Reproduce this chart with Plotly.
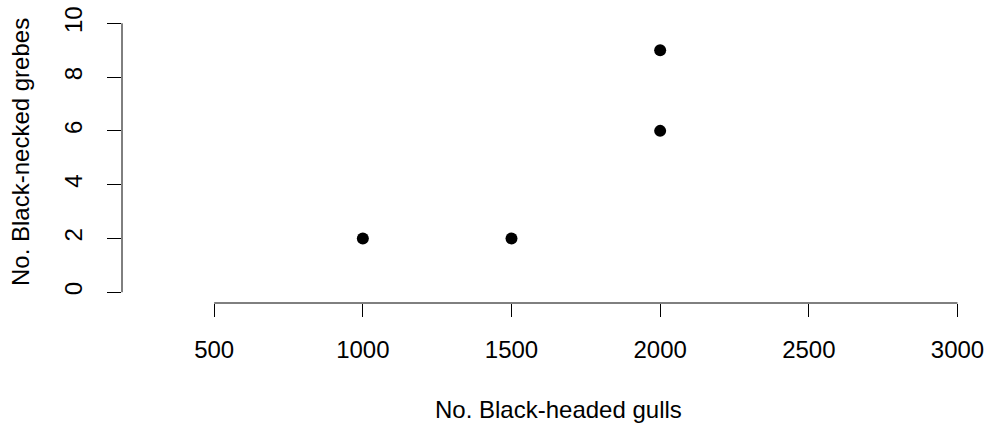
import plotly.graph_objects as go

gulls = [1000, 1500, 2000, 2000]
grebes = [2, 2, 6, 9]
x_ticks = [500, 1000, 1500, 2000, 2500, 3000]
y_ticks = [0, 2, 4, 6, 8, 10]
x_title = "No. Black-headed gulls"
y_title = "No. Black-necked grebes"

FONT = "Liberation Sans, Arial, Helvetica, sans-serif"

fig = go.Figure()
fig.add_trace(go.Scatter(
    x=gulls, y=grebes, mode="markers",
    marker=dict(color="black", size=12, line=dict(width=0)),
    showlegend=False, hoverinfo="x+y",
))

fig.update_layout(
    width=989, height=423,
    margin=dict(l=122, r=0, t=12, b=120, pad=0),
    paper_bgcolor="white", plot_bgcolor="white",
    font=dict(family=FONT, size=24, color="black"),
    xaxis=dict(
        range=[190, 3106], tickvals=x_ticks, ticktext=[str(v) for v in x_ticks],
        showgrid=False, zeroline=False, showline=False,
        ticks="outside", ticklen=13, tickwidth=1, tickcolor="black",
        ticklabelstandoff=12,
    ),
    yaxis=dict(
        range=[-0.4, 10.42], tickvals=y_ticks, ticktext=[str(v) for v in y_ticks],
        showgrid=False, zeroline=False, showline=False,
        ticks="outside", ticklen=14, tickwidth=1, tickcolor="black",
        tickangle=-90, ticklabelstandoff=15,
    ),
    shapes=[
        dict(type="line", xref="x", yref="paper", x0=x_ticks[0], x1=x_ticks[-1], y0=0, y1=0,
             line=dict(color="black", width=1)),
        dict(type="line", xref="paper", yref="y", x0=0, x1=0, y0=y_ticks[0], y1=y_ticks[-1],
             line=dict(color="black", width=1)),
    ],
    annotations=[
        dict(text=x_title, xref="paper", yref="paper", x=(558 - 122) / 867, y=(303 - 409) / 291,
             xanchor="center", yanchor="middle", showarrow=False, font=dict(size=24)),
        dict(text=y_title, xref="paper", yref="paper", x=(20 - 122) / 867, y=(303 - 152) / 291,
             xanchor="center", yanchor="middle", textangle=-90, showarrow=False, font=dict(size=24)),
    ],
)

fig.write_html(
    "out.html",
    config={"displayModeBar": False},
    post_script="document.body.style.margin='0px';document.body.style.overflow='hidden';",
)
